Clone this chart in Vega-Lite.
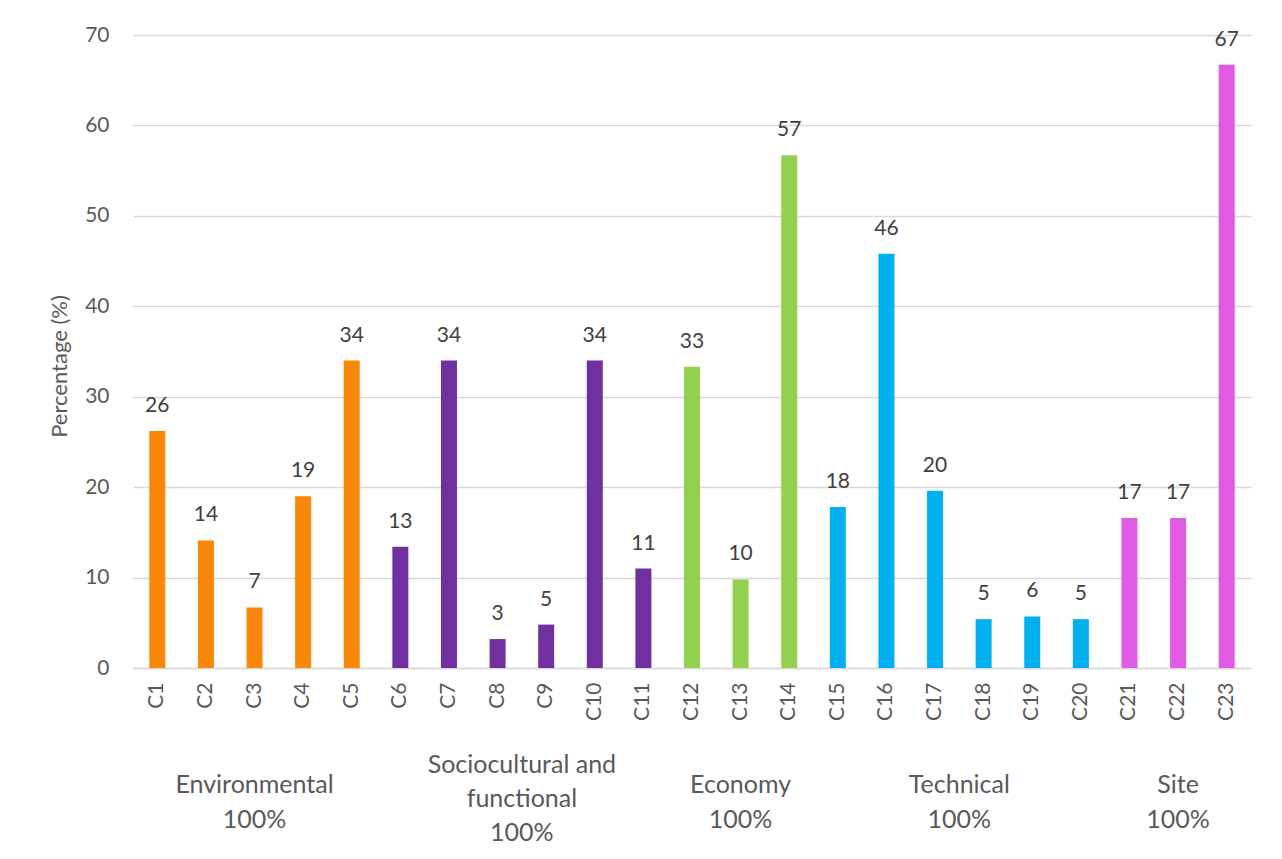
{
  "$schema": "https://vega.github.io/schema/vega-lite/v6.json",
  "width": 1118,
  "height": 633,
  "autosize": {"type": "none"},
  "padding": {"left": 133, "top": 35, "right": 31, "bottom": 191},
  "background": "white",
  "config": {
    "font": "Lato",
    "view": {"stroke": null},
    "axis": {"labelFont": "Lato", "titleFont": "Lato"}
  },
  "datasets": {
    "bars": [
      {"c": "C1", "group": "Environmental", "v": 26.2},
      {"c": "C2", "group": "Environmental", "v": 14.1},
      {"c": "C3", "group": "Environmental", "v": 6.7},
      {"c": "C4", "group": "Environmental", "v": 19.0},
      {"c": "C5", "group": "Environmental", "v": 34.0},
      {"c": "C6", "group": "Sociocultural", "v": 13.4},
      {"c": "C7", "group": "Sociocultural", "v": 34.0},
      {"c": "C8", "group": "Sociocultural", "v": 3.2},
      {"c": "C9", "group": "Sociocultural", "v": 4.8},
      {"c": "C10", "group": "Sociocultural", "v": 34.0},
      {"c": "C11", "group": "Sociocultural", "v": 11.0},
      {"c": "C12", "group": "Economy", "v": 33.3},
      {"c": "C13", "group": "Economy", "v": 9.8},
      {"c": "C14", "group": "Economy", "v": 56.7},
      {"c": "C15", "group": "Technical", "v": 17.8},
      {"c": "C16", "group": "Technical", "v": 45.8},
      {"c": "C17", "group": "Technical", "v": 19.6},
      {"c": "C18", "group": "Technical", "v": 5.4},
      {"c": "C19", "group": "Technical", "v": 5.7},
      {"c": "C20", "group": "Technical", "v": 5.4},
      {"c": "C21", "group": "Site", "v": 16.6},
      {"c": "C22", "group": "Site", "v": 16.6},
      {"c": "C23", "group": "Site", "v": 66.7}
    ],
    "groupsOdd": [
      {"c": "C3", "label": "Environmental\n100%"},
      {"c": "C13", "label": "Economy\n100%"},
      {"c": "C22", "label": "Site\n100%"}
    ],
    "groupsTech": [
      {"c": "C17", "label": "Technical\n100%"}
    ],
    "groupsSoc": [
      {"c": "C8", "label": "Sociocultural and\nfunctional\n100%"}
    ]
  },
  "layer": [
    {
      "data": {"name": "bars"},
      "mark": {"type": "bar", "width": 16},
      "encoding": {
        "x": {
          "field": "c", "type": "nominal", "sort": null,
          "scale": {"paddingInner": 0, "paddingOuter": 0},
          "axis": {
            "title": null, "labelAngle": -90, "labelAlign": "right", "labelBaseline": "middle",
            "labelFontSize": 21, "labelColor": "#595959", "labelPadding": 14,
            "ticks": false, "domainColor": "#d9d9d9", "domainWidth": 1.5, "grid": false
          }
        },
        "y": {
          "field": "v", "type": "quantitative",
          "scale": {"domain": [0, 70], "nice": false},
          "axis": {
            "title": "Percentage (%)", "values": [0, 10, 20, 30, 40, 50, 60, 70],
            "labelFontSize": 21, "labelColor": "#595959", "labelPadding": 24,
            "titleFontSize": 22, "titleFontWeight": "normal", "titleColor": "#595959", "titlePadding": 13,
            "titleY": 331,
            "ticks": false, "domain": false, "gridColor": "#d9d9d9", "gridWidth": 1.5
          }
        },
        "color": {
          "field": "group", "type": "nominal", "legend": null,
          "scale": {
            "domain": ["Environmental", "Sociocultural", "Economy", "Technical", "Site"],
            "range": ["#F9870A", "#7030A0", "#92D050", "#00B0F0", "#E15AE3"]
          }
        }
      }
    },
    {
      "data": {"name": "bars"},
      "mark": {"type": "text", "baseline": "alphabetic", "dy": -19, "fontSize": 21, "color": "#404040"},
      "encoding": {
        "x": {"field": "c", "type": "nominal", "sort": null},
        "y": {"field": "v", "type": "quantitative"},
        "text": {"field": "v", "type": "quantitative", "format": ".0f"}
      }
    },
    {
      "data": {"name": "groupsOdd"},
      "mark": {"type": "text", "baseline": "middle", "align": "center", "dy": 117, "fontSize": 25, "lineHeight": 35, "lineBreak": "\n", "color": "#595959"},
      "encoding": {
        "x": {"field": "c", "type": "nominal", "sort": null, "bandPosition": 0.5},
        "y": {"datum": 0, "type": "quantitative"},
        "text": {"field": "label"}
      }
    },
    {
      "data": {"name": "groupsTech"},
      "mark": {"type": "text", "baseline": "middle", "align": "center", "dy": 117, "fontSize": 25, "lineHeight": 35, "lineBreak": "\n", "color": "#595959"},
      "encoding": {
        "x": {"field": "c", "type": "nominal", "sort": null, "bandPosition": 1},
        "y": {"datum": 0, "type": "quantitative"},
        "text": {"field": "label"}
      }
    },
    {
      "data": {"name": "groupsSoc"},
      "mark": {"type": "text", "baseline": "middle", "align": "center", "dy": 97, "fontSize": 25, "lineHeight": 34, "lineBreak": "\n", "color": "#595959"},
      "encoding": {
        "x": {"field": "c", "type": "nominal", "sort": null, "bandPosition": 1},
        "y": {"datum": 0, "type": "quantitative"},
        "text": {"field": "label"}
      }
    }
  ]
}
